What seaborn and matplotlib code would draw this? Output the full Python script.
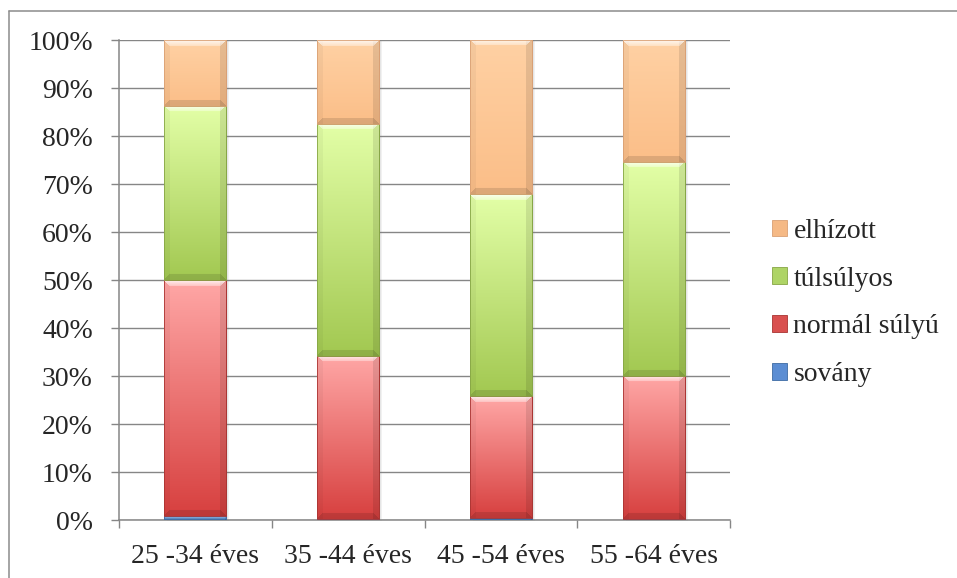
import numpy as np
import pandas as pd
import matplotlib
matplotlib.use("Agg")
import matplotlib.pyplot as plt
import seaborn as sns
from matplotlib.ticker import PercentFormatter, FixedLocator, NullFormatter
from matplotlib.patches import Patch, Rectangle
from matplotlib.lines import Line2D
from matplotlib.colors import to_rgb

# --- data: share of each BMI group within the age groups (%) ---
age_groups = ["25 -34 éves", "35 -44 éves", "45 -54 éves", "55 -64 éves"]
sovany = [0.9, 0.2, 0.5, 0.2]
normal_sulyu = [49.1, 34.0, 25.4, 29.8]
tulsulyos = [36.3, 48.4, 42.0, 44.6]
elhizott = [13.7, 17.4, 32.1, 25.4]

series_names = ["sovány", "normál súlyú", "túlsúlyos", "elhízott"]
series_values = [sovany, normal_sulyu, tulsulyos, elhizott]

# gradient colours (top of segment, bottom of segment) and legend swatch
top_colors = ["#A9CAF2", "#FFA7A6", "#E3FFA7", "#FFD1A4"]
bottom_colors = ["#4A7EBB", "#D7403F", "#A2C851", "#FBBE88"]
swatch_colors = ["#5B8DD3", "#D9504F", "#AED466", "#F5B985"]
edge_colors = ["#3D6BA3", "#A93432", "#86A545", "#D9A074"]

sns.set_theme(style="white")
plt.rcParams["font.family"] = ["Liberation Serif", "DejaVu Serif"]
plt.rcParams["font.size"] = 20

W, H = 957, 578
fig = plt.figure(figsize=(W / 100, H / 100), dpi=100)
ax = fig.add_axes([119 / W, (H - 520) / H, (730 - 119) / W, 480 / H])

df = pd.DataFrame({"age": age_groups})
bottoms = np.zeros(len(age_groups))
bar_width = 0.405
series_patches = []
for name, vals, col, ec in zip(series_names, series_values, swatch_colors, edge_colors):
    df[name] = vals
    n_before = len(ax.patches)
    sns.barplot(data=df, x="age", y=name, order=age_groups, color=col,
                width=bar_width, errorbar=None, bottom=bottoms.copy(),
                edgecolor=ec, linewidth=0.6, saturation=1, ax=ax, zorder=3)
    series_patches.append(ax.patches[n_before:])
    bottoms = bottoms + np.array(vals)

ax.set_xlim(-0.5, len(age_groups) - 0.5)
ax.set_ylim(0, 100)
ax.set_xlabel("")
ax.set_ylabel("")

# y axis: percentage ticks with grey gridlines
ax.yaxis.set_major_locator(FixedLocator(np.arange(0, 101, 10)))
ax.yaxis.set_major_formatter(PercentFormatter(xmax=100, decimals=0))
ax.yaxis.grid(True, color="#868686", linewidth=1.0)
ax.set_axisbelow(True)
ax.tick_params(axis="y", which="major", direction="out", length=5.8, width=1.0,
               color="#868686", pad=13, labelsize=20, left=True)

# x axis: labels under the bars, tick marks between categories
ax.set_xticks(range(len(age_groups)))
ax.set_xticklabels(age_groups)
ax.tick_params(axis="x", which="major", length=0, pad=17, labelsize=20)
ax.xaxis.set_minor_locator(FixedLocator(np.arange(-0.5, len(age_groups), 1.0)))
ax.xaxis.set_minor_formatter(NullFormatter())
ax.tick_params(axis="x", which="minor", direction="out", length=5.8, width=1.0,
               color="#868686", bottom=True)

for side in ["top", "right"]:
    ax.spines[side].set_visible(False)
for side in ["left", "bottom"]:
    ax.spines[side].set_color("#868686")
    ax.spines[side].set_linewidth(1.1)

# bevelled gradient fill for every bar segment
def shade_segment(patch, top_hex, bottom_hex, bevel=6):
    x, y = patch.get_x(), patch.get_y()
    w, h = patch.get_width(), patch.get_height()
    if h <= 0:
        return
    x0, y0 = ax.transData.transform((x, y))
    x1, y1 = ax.transData.transform((x + w, y + h))
    wpx = max(int(round(x1 - x0)), 2)
    hpx = max(int(round(y1 - y0)), 2)
    top = np.array(to_rgb(top_hex))
    bot = np.array(to_rgb(bottom_hex))
    t = np.linspace(0, 1, hpx)[:, None, None]
    img = np.repeat(top + (bot - top) * t, wpx, axis=1)
    rows = np.arange(hpx)[:, None] * np.ones((1, wpx))
    cols = np.ones((hpx, 1)) * np.arange(wpx)[None, :]
    b = max(1, min(bevel, hpx // 3 if hpx >= 6 else 1))
    # side shading
    left = cols < b
    right = cols >= wpx - b
    img[left] *= 0.96
    img[right] *= 0.90
    # bottom band, darker trapezoid
    d = hpx - 1 - rows
    bottom_band = (d < b) & (cols >= d) & (cols < wpx - d)
    img[bottom_band] *= 0.88
    # top highlight, lighter trapezoid
    top_band = (rows < b) & (cols >= rows) & (cols < wpx - rows)
    k = (0.8 - 0.5 * rows / b)[top_band][:, None]
    img[top_band] = img[top_band] + (1 - img[top_band]) * k
    img = np.clip(img, 0, 1)
    ax.imshow(img, extent=[x, x + w, y, y + h], origin="upper",
              aspect="auto", interpolation="bilinear",
              zorder=patch.get_zorder() + 0.1)
    # thin outline on top of the gradient
    ax.add_patch(Rectangle((x, y), w, h, fill=False, linewidth=0.6,
                           edgecolor=patch.get_edgecolor(),
                           zorder=patch.get_zorder() + 0.2))

for patches, tc, bc in zip(series_patches, top_colors, bottom_colors):
    for p in patches:
        shade_segment(p, tc, bc)

# soft drop shadow behind each full bar
px_x = 4.0 / 611
px_y = 100.0 / 480
for i, p in enumerate(series_patches[0]):
    for k in range(3):
        off = 1 + k
        ax.add_patch(Rectangle((p.get_x() + off * px_x, -off * px_y * 0.2),
                               p.get_width(), bottoms[i],
                               facecolor="#7f7f7f", edgecolor="none",
                               alpha=0.10, zorder=2.5, clip_on=False))

ax.set_xlim(-0.5, len(age_groups) - 0.5)
ax.set_ylim(0, 100)

# legend, top entry is the top segment
handles = [Patch(facecolor=swatch_colors[i], edgecolor=edge_colors[i], linewidth=0.6)
           for i in range(len(series_names))][::-1]
labels = series_names[::-1]
fig.legend(handles, labels, loc="center left",
           bbox_to_anchor=(772 / W, 1 - 303 / H), frameon=False,
           handlelength=0.55, handleheight=0.55, handletextpad=0.22,
           labelspacing=0.82, borderpad=0, borderaxespad=0, fontsize=20)

# chart frame (top and left edges)
fig.add_artist(Line2D([9 / W, 9 / W], [1 - 11 / H, 0], color="#8c8c8c", linewidth=1.1))
fig.add_artist(Line2D([9 / W, 1], [1 - 11 / H, 1 - 11 / H], color="#8c8c8c", linewidth=1.1))

fig.savefig("out.png", dpi=100, facecolor="white")
